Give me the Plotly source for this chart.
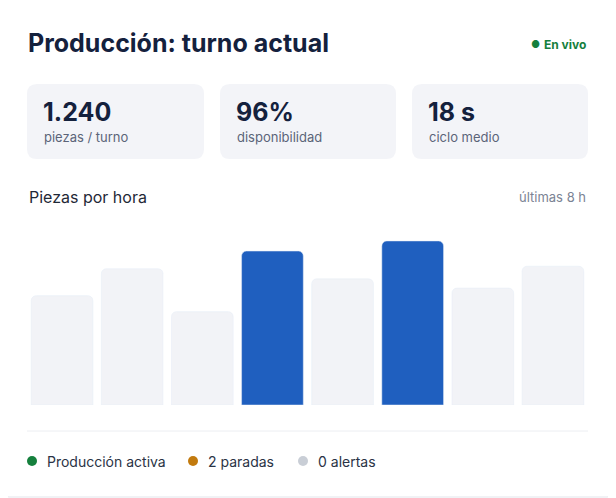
import plotly.graph_objects as go

# data
horas = ["h1", "h2", "h3", "h4", "h5", "h6", "h7", "h8"]
piezas = [130, 162, 111, 183, 150, 195, 139, 165]
destacadas = [False, False, False, True, False, True, False, False]
kpi_valores = ["1.240", "96%", "18 s"]
kpi_etiquetas = ["piezas / turno", "disponibilidad", "ciclo medio"]
leyenda = ["Producción activa", "2 paradas", "0 alertas"]
leyenda_colores = ["#15803d", "#c27a0e", "#c9ced6"]

OFF = 8  # page body margin
W, H = 616 - OFF, 498 - OFF
PL, PR, PT, PB = 27, 588, 225, 405
FONT = "Inter"


def px(x):
    return (x - PL) / (PR - PL)


def py(y):
    return (PB - y) / (PB - PT)


def rounded(x0, y0, x1, y1, r):
    # rounded rectangle path in pixel coords, mapped to paper coords
    pts = []
    for ang_x, ang_y in []:
        pass
    X = lambda v: px(v)
    Y = lambda v: py(v)
    return (f"M {X(x0 + r)},{Y(y0)} L {X(x1 - r)},{Y(y0)} Q {X(x1)},{Y(y0)} {X(x1)},{Y(y0 + r)} "
            f"L {X(x1)},{Y(y1 - r)} Q {X(x1)},{Y(y1)} {X(x1 - r)},{Y(y1)} L {X(x0 + r)},{Y(y1)} "
            f"Q {X(x0)},{Y(y1)} {X(x0)},{Y(y1 - r)} L {X(x0)},{Y(y0 + r)} Q {X(x0)},{Y(y0)} {X(x0 + r)},{Y(y0)} Z")


colors = ["#1f5fbf" if d else "#f2f3f7" for d in destacadas]
fig = go.Figure(go.Bar(x=horas, y=piezas, marker=dict(color=colors, cornerradius=5),
                       hoverinfo="skip"))

shapes = [
    dict(type="path", xref="paper", yref="paper", path=rounded(1, 1, 615, 497, 8),
         line=dict(color="#e2e5eb", width=1), fillcolor="rgba(0,0,0,0)", layer="below"),
    dict(type="line", xref="paper", yref="paper", x0=px(27), x1=px(588), y0=py(431), y1=py(431),
         line=dict(color="#eceef2", width=1)),
]
annotations = [
    dict(text="<b>Producción: turno actual</b>", x=px(26), y=py(43), font=dict(size=25, color="#14213d")),
    dict(text="<b>En vivo</b>", x=px(588), y=py(44), xanchor="right", font=dict(size=12, color="#15803d")),
    dict(text="●", x=px(542), y=py(44), xanchor="right", font=dict(size=10, color="#15803d")),
    dict(text="Piezas por hora", x=px(27), y=py(197), font=dict(size=16, color="#1f2937")),
    dict(text="últimas 8 h", x=px(588), y=py(197), xanchor="right", font=dict(size=13, color="#7b8394")),
]
box_x = [(27, 204), (220, 396), (412, 588)]
for (x0, x1), v, lab in zip(box_x, kpi_valores, kpi_etiquetas):
    shapes.append(dict(type="path", xref="paper", yref="paper", path=rounded(x0, 84, x1, 159, 10),
                       line=dict(width=0), fillcolor="#f3f4f8", layer="below"))
    annotations.append(dict(text=f"<b>{v}</b>", x=px(x0 + 14), y=py(112), font=dict(size=25, color="#14213d")))
    annotations.append(dict(text=lab, x=px(x0 + 15), y=py(137), font=dict(size=13, color="#5b6478")))

lx = [27, 188, 298]
for x, t, c in zip(lx, leyenda, leyenda_colores):
    shapes.append(dict(type="circle", xref="paper", yref="paper", x0=px(x), x1=px(x + 10),
                       y0=py(466), y1=py(456), line=dict(width=0), fillcolor=c))
    annotations.append(dict(text=t, x=px(x + 18), y=py(461), font=dict(size=14, color="#2a3345")))

for a in annotations:
    a.update(xref="paper", yref="paper", showarrow=False, yanchor="middle")
    a.setdefault("xanchor", "left")

fig.update_layout(
    width=W, height=H,
    margin=dict(l=PL - OFF, r=W - (PR - OFF), t=PT - OFF, b=H - (PB - OFF)),
    paper_bgcolor="white", plot_bgcolor="white", font=dict(family=FONT),
    bargap=0.12, showlegend=False, shapes=shapes, annotations=annotations,
    xaxis=dict(visible=False, fixedrange=True),
    yaxis=dict(visible=False, range=[0, 214], fixedrange=True),
)
fig.write_html("out.html", config={"displayModeBar": False})
